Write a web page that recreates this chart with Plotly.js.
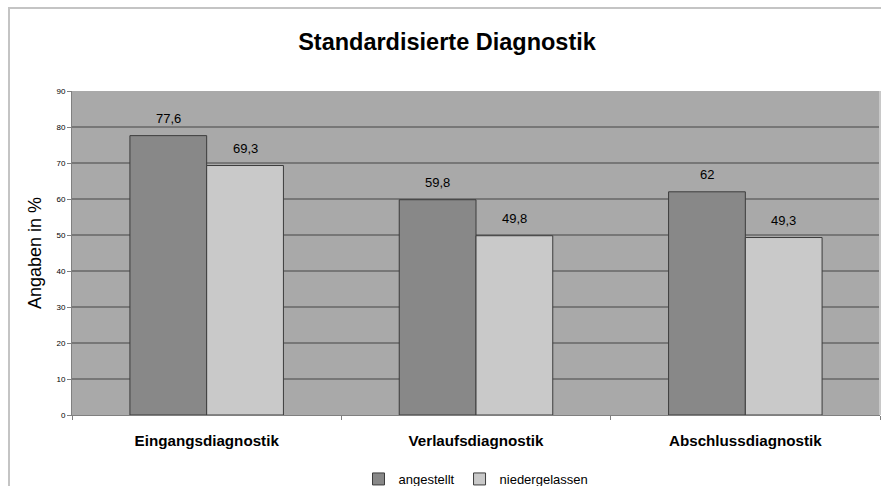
<!DOCTYPE html>
<html>
<head>
<meta charset="utf-8">
<script src="https://cdn.plot.ly/plotly-3.0.1.min.js"></script>
<style>
  html, body { margin: 0; padding: 0; background: #ffffff; }
  #chart { width: 881px; height: 486px; }
</style>
</head>
<body>
<div id="chart"></div>
<script>
// Kategorien und Werte (Angaben in %)
const categories = ['Eingangsdiagnostik', 'Verlaufsdiagnostik', 'Abschlussdiagnostik'];
const angestellt = [77.6, 59.8, 62];
const niedergelassen = [69.3, 49.8, 49.3];
const seriesNames = ['angestellt', 'niedergelassen'];
const yTicks = [0, 10, 20, 30, 40, 50, 60, 70, 80, 90];

// Zahlen mit Dezimalkomma beschriften
const fmt = v => String(v).replace('.', ',');

const font = 'Liberation Sans, Arial, sans-serif';

// Plotbereich: x 72..880 px, y 91..415 px
const L = 72, R = 880, T = 91, B = 415, W = 881, H = 486;
const pw = R - L, ph = B - T;
const bargap = 0.43;
// halbe Balkenbreite in Pixeln (zwei Balken je Gruppe)
const halfBar = (pw / categories.length) * (1 - bargap) / 4;

function barTrace(name, values, color) {
  return {
    type: 'bar',
    name: name,
    x: categories,
    y: values,
    marker: { color: color, line: { color: '#3c3c3c', width: 1 } },
    hoverinfo: 'skip'
  };
}

const data = [
  barTrace(seriesNames[0], angestellt, '#888888'),
  barTrace(seriesNames[1], niedergelassen, '#c9c9c9')
];

// Wertbeschriftungen über den Balken
const valueLabels = [];
[[angestellt, -1], [niedergelassen, 1]].forEach(([vals, side]) => {
  vals.forEach((v, i) => {
    valueLabels.push({
      x: categories[i], y: v, xref: 'x', yref: 'y',
      text: fmt(v), showarrow: false,
      xshift: side * halfBar, yanchor: 'bottom', yshift: 8,
      font: { family: font, size: 13, color: '#000000' }
    });
  });
});

const layout = {
  width: W,
  height: H,
  margin: { l: L, r: W - R, t: T, b: H - B, pad: 0, autoexpand: false },
  paper_bgcolor: '#ffffff',
  plot_bgcolor: '#a9a9a9',
  font: { family: font, color: '#000000' },
  title: {
    text: '<b>Standardisierte Diagnostik</b>',
    font: { family: font, size: 23.5, color: '#000000' },
    x: 447 / W, xref: 'container', xanchor: 'center',
    y: 1 - 42 / H, yref: 'container', yanchor: 'middle'
  },
  barmode: 'group',
  bargap: bargap,
  bargroupgap: 0,
  showlegend: true,
  legend: {
    orientation: 'h',
    x: 0.5, xanchor: 'center',
    y: (B - 479) / ph, yanchor: 'middle',
    bgcolor: 'rgba(0,0,0,0)',
    font: { family: font, size: 13, color: '#000000' },
    itemwidth: 30,
    traceorder: 'normal'
  },
  annotations: valueLabels,
  xaxis: {
    type: 'category',
    automargin: false,
    tickson: 'boundaries',
    ticks: 'outside',
    ticklen: 4,
    tickcolor: '#808080',
    showline: true,
    linecolor: '#808080',
    linewidth: 1,
    showgrid: false,
    tickfont: { family: font, size: 15.2, weight: 'bold', color: '#000000' },
    ticklabelstandoff: 12,
    fixedrange: true
  },
  yaxis: {
    range: [0, 90],
    automargin: false,
    tickvals: yTicks,
    ticktext: yTicks.map(String),
    ticks: 'outside',
    ticklen: 4,
    tickcolor: '#808080',
    tickfont: { family: font, size: 8, color: '#000000' },
    showline: true,
    linecolor: '#808080',
    linewidth: 1,
    showgrid: true,
    gridcolor: '#777777',
    gridwidth: 1.6,
    zeroline: false,
    title: {
      text: 'Angaben in %',
      font: { family: font, size: 18, color: '#000000' },
      standoff: 10
    },
    fixedrange: true
  },
  shapes: [
    // Rahmen um das gesamte Diagramm
    {
      type: 'rect', xref: 'paper', yref: 'paper',
      x0: (9 - L) / pw, x1: (W + 20 - L) / pw,
      y0: (B - (H + 20)) / ph, y1: (B - 8) / ph,
      line: { color: '#c4c4c4', width: 2 },
      fillcolor: 'rgba(0,0,0,0)',
      layer: 'below'
    },
    // rechter Rand des Plotbereichs
    {
      type: 'line', xref: 'paper', yref: 'paper',
      x0: 1, x1: 1, y0: 0, y1: 1,
      line: { color: '#c8c8c8', width: 2 }
    }
  ]
};

Plotly.newPlot('chart', data, layout, { displayModeBar: false, staticPlot: true });
</script>
</body>
</html>
